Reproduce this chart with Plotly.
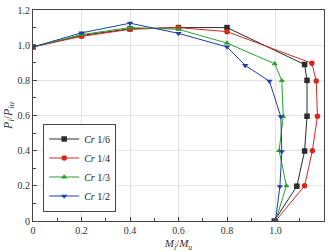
import plotly.graph_objects as go

series_names = ["<i>Cr</i> 1/6", "<i>Cr</i> 1/4", "<i>Cr</i> 1/3", "<i>Cr</i> 1/2"]
x_16 = [0, 0.2, 0.4, 0.6, 0.8, 1.12, 1.13, 1.13, 1.12, 1.088, 0.995]
y_16 = [0.99, 1.055, 1.093, 1.10, 1.10, 0.89, 0.80, 0.596, 0.398, 0.198, 0.0]
x_14 = [0, 0.2, 0.4, 0.6, 0.8, 1.15, 1.168, 1.173, 1.152, 1.12, 1.0]
y_14 = [0.99, 1.05, 1.09, 1.10, 1.077, 0.897, 0.796, 0.596, 0.40, 0.20, 0.0]
x_13 = [0, 0.2, 0.4, 0.6, 0.8, 0.997, 1.026, 1.032, 1.015, 1.045, 1.0]
y_13 = [0.99, 1.06, 1.10, 1.09, 1.012, 0.894, 0.798, 0.595, 0.40, 0.20, 0.0]
x_12 = [0, 0.2, 0.4, 0.6, 0.8, 0.875, 0.975, 1.022, 1.026, 1.018, 1.0]
y_12 = [0.99, 1.07, 1.125, 1.067, 0.99, 0.885, 0.795, 0.593, 0.395, 0.196, 0.0]

colors = ["#2b2b2b", "#d42a1e", "#2ca02c", "#1f3ea8"]
symbols = ["square", "circle", "triangle-up", "triangle-down"]
xs = [x_16, x_14, x_13, x_12]
ys = [y_16, y_14, y_13, y_12]

fig = go.Figure()
for name, x, y, c, s in zip(series_names, xs, ys, colors, symbols):
    fig.add_trace(go.Scatter(x=x, y=y, mode="lines+markers", name=name,
                             line=dict(color=c, width=1),
                             marker=dict(symbol=s, size=5.5, color=c)))

font = dict(family="Liberation Serif, Times New Roman, serif", size=10, color="#333")
fig.update_layout(
    width=329, height=252,
    margin=dict(l=33, r=4, t=6, b=24),
    paper_bgcolor="white", plot_bgcolor="white",
    font=font,
    showlegend=True,
    legend=dict(x=0.035, y=0.045, xanchor="left", yanchor="bottom",
                bordercolor="#444", borderwidth=1, bgcolor="white",
                font=dict(family="Liberation Serif, serif", size=10, color="#222"),
                tracegroupgap=0, itemwidth=30),
)
fig.update_xaxes(range=[0, 1.2], tickvals=[0, 0.2, 0.4, 0.6, 0.8, 1.0, 1.2],
                 ticktext=["0", "0.2", "0.4", "0.6", "0.8", "1.0", "1.2"],
                 showgrid=True, gridcolor="#e3e3e3", gridwidth=1,
                 showline=True, linecolor="#444", linewidth=1, mirror=True,
                 ticks="inside", ticklen=4, tickcolor="#444",
                 minor=dict(dtick=0.1, ticks="inside", ticklen=3, tickcolor="#444", showgrid=False),
                 zeroline=False,
                 title=dict(text="<i>M<sub>i</sub></i>/<i>M<sub>u</sub></i>", standoff=4, font=dict(size=11)))
fig.update_yaxes(range=[0, 1.2], tickvals=[0, 0.2, 0.4, 0.6, 0.8, 1.0, 1.2],
                 ticktext=["0", "0.2", "0.4", "0.6", "0.8", "1.0", "1.2"],
                 showgrid=True, gridcolor="#e3e3e3", gridwidth=1,
                 showline=True, linecolor="#444", linewidth=1, mirror=True,
                 ticks="inside", ticklen=4, tickcolor="#444",
                 minor=dict(dtick=0.1, ticks="inside", ticklen=3, tickcolor="#444", showgrid=False),
                 zeroline=False,
                 title=dict(text="<i>P<sub>i</sub></i>/<i>P<sub>iu</sub></i>", standoff=2, font=dict(size=12)))

fig.write_html("out.html")
